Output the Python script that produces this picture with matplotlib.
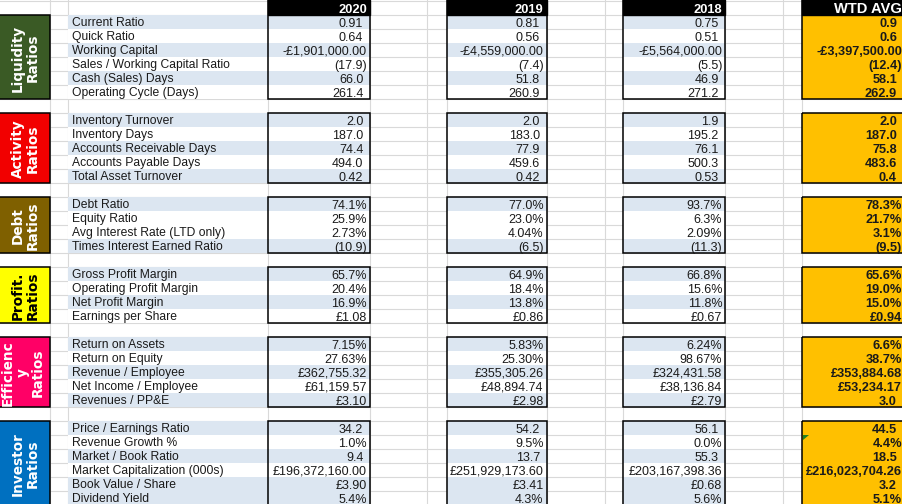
import matplotlib
matplotlib.use('Agg')
import matplotlib.pyplot as plt
from matplotlib.patches import Rectangle, Polygon

# ---------------- data ----------------
col_headers = ['2020', '2019', '2018', 'WTD AVG']

liq_title = 'Liquidity\nRatios'
liq_labels = ['Current Ratio', 'Quick Ratio', 'Working Capital', 'Sales / Working Capital Ratio',
              'Cash (Sales) Days', 'Operating Cycle (Days)']
liq_2020 = ['0.91', '0.64', '-£1,901,000.00', '(17.9)', '66.0', '261.4']
liq_2019 = ['0.81', '0.56', '-£4,559,000.00', '(7.4)', '51.8', '260.9']
liq_2018 = ['0.75', '0.51', '-£5,564,000.00', '(5.5)', '46.9', '271.2']
liq_wtd = ['0.9', '0.6', '-£3,397,500.00', '(12.4)', '58.1', '262.9']

act_title = 'Activity\nRatios'
act_labels = ['Inventory Turnover', 'Inventory Days', 'Accounts Receivable Days',
              'Accounts Payable Days', 'Total Asset Turnover']
act_2020 = ['2.0', '187.0', '74.4', '494.0', '0.42']
act_2019 = ['2.0', '183.0', '77.9', '459.6', '0.42']
act_2018 = ['1.9', '195.2', '76.1', '500.3', '0.53']
act_wtd = ['2.0', '187.0', '75.8', '483.6', '0.4']

debt_title = 'Debt\nRatios'
debt_labels = ['Debt Ratio', 'Equity Ratio', 'Avg Interest Rate (LTD only)', 'Times Interest Earned Ratio']
debt_2020 = ['74.1%', '25.9%', '2.73%', '(10.9)']
debt_2019 = ['77.0%', '23.0%', '4.04%', '(6.5)']
debt_2018 = ['93.7%', '6.3%', '2.09%', '(11.3)']
debt_wtd = ['78.3%', '21.7%', '3.1%', '(9.5)']

prof_title = 'Profit.\nRatios'
prof_labels = ['Gross Profit Margin', 'Operating Profit Margin', 'Net Profit Margin', 'Earnings per Share']
prof_2020 = ['65.7%', '20.4%', '16.9%', '£1.08']
prof_2019 = ['64.9%', '18.4%', '13.8%', '£0.86']
prof_2018 = ['66.8%', '15.6%', '11.8%', '£0.67']
prof_wtd = ['65.6%', '19.0%', '15.0%', '£0.94']

eff_title = 'Efficienc\ny\nRatios'
eff_labels = ['Return on Assets', 'Return on Equity', 'Revenue / Employee', 'Net Income / Employee',
              'Revenues / PP&E']
eff_2020 = ['7.15%', '27.63%', '£362,755.32', '£61,159.57', '£3.10']
eff_2019 = ['5.83%', '25.30%', '£355,305.26', '£48,894.74', '£2.98']
eff_2018 = ['6.24%', '98.67%', '£324,431.58', '£38,136.84', '£2.79']
eff_wtd = ['6.6%', '38.7%', '£353,884.68', '£53,234.17', '3.0']

inv_title = 'Investor\nRatios'
inv_labels = ['Price / Earnings Ratio', 'Revenue Growth %', 'Market / Book Ratio',
              'Market Capitalization (000s)', 'Book Value / Share', 'Dividend Yield']
inv_2020 = ['34.2', '1.0%', '9.4', '£196,372,160.00', '£3.90', '5.4%']
inv_2019 = ['54.2', '9.5%', '13.7', '£251,929,173.60', '£3.41', '4.3%']
inv_2018 = ['56.1', '0.0%', '55.3', '£203,167,398.36', '£0.68', '5.6%']
inv_wtd = ['44.5', '4.4%', '18.5', '£216,023,704.26', '3.2', '5.1%']

# ---------------- styles / layout ----------------
W, H = 903, 504
ROW_H = 14
BLUE = '#DCE6F1'
ORANGE = '#FFC000'
GRID = '#D9D9D9'
TXT = '#1A1A1A'

sections = [
    (liq_title, '#3A5A25', 'white', 1, liq_labels, [liq_2020, liq_2019, liq_2018, liq_wtd], [1, 0, 1, 0, 1, 0]),
    (act_title, '#F20000', 'white', 8, act_labels, [act_2020, act_2019, act_2018, act_wtd], [1, 0, 1, 0, 1]),
    (debt_title, '#7F6000', 'white', 14, debt_labels, [debt_2020, debt_2019, debt_2018, debt_wtd], [1, 0, 0, 1]),
    (prof_title, '#FFFF00', 'black', 19, prof_labels, [prof_2020, prof_2019, prof_2018, prof_wtd], [1, 0, 1, 0]),
    (eff_title, '#FF0066', 'white', 24, eff_labels, [eff_2020, eff_2019, eff_2018, eff_wtd], [1, 0, 1, 0, 1]),
    (inv_title, '#0070C0', 'white', 30, inv_labels, [inv_2020, inv_2019, inv_2018, inv_wtd], [1, 0, 1, 0, 1, 1]),
]

LABEL_BOX = (0, 50)
LABEL_COL = (68, 268)
VAL_COLS = [(268, 370), (447, 547), (623, 725), (802, 930)]
VAL_RIGHT = [366.8, 543.6, 722.3, 902.0]
V_GRID = [50, 68, 268, 370, 427, 447, 547, 605, 623, 725, 783, 802]

plt.rcParams['font.family'] = ['Liberation Sans', 'DejaVu Sans']
FS_LAB = 8.75
FS_NUM = 9.0
FS_BOLD = 9.2

fig = plt.figure(figsize=(W / 100, H / 100), dpi=100)
ax = fig.add_axes([0, 0, 1, 1])
ax.set_xlim(0, W)
ax.set_ylim(H, 0)
ax.axis('off')


def top(i):
    return 1 + ROW_H * i


for x in V_GRID:
    ax.plot([x, x], [0, H], color=GRID, lw=0.8, zorder=1)
for i in range(0, 37):
    ax.plot([0, W], [top(i), top(i)], color=GRID, lw=0.8, zorder=1)

# header row
for c, ((x0, x1), xr, hdr) in enumerate(zip(VAL_COLS, VAL_RIGHT, col_headers)):
    ax.add_patch(Rectangle((x0, 0), x1 - x0, top(1), facecolor='black', edgecolor='black', lw=1, zorder=3))
    ax.text(xr, top(0) + 11.6, hdr, color='white', fontsize=10.6 if c == 3 else 9.3,
            fontweight='bold', ha='right', va='baseline', zorder=5, clip_on=True)

for title, bcol, tcol, r0, labels, values, shade in sections:
    n = len(labels)
    y0 = top(r0)
    y1 = top(r0 + n)
    ax.add_patch(Rectangle((LABEL_BOX[0] - 2, y0), LABEL_BOX[1] - LABEL_BOX[0] + 2, y1 - y0,
                           facecolor=bcol, edgecolor='black', lw=1.1, zorder=3))
    nlines = title.count('\n') + 1
    cx = 25.5 if nlines == 2 else 23
    ax.text(cx, (y0 + y1) / 2 + 1, title, rotation=90, color=tcol, fontsize=9.8,
            family='DejaVu Sans', fontweight='heavy', ha='center', va='center',
            multialignment='center', linespacing=1.1, zorder=5, clip_on=True)
    for k in range(n):
        ry = top(r0 + k)
        fc = BLUE if shade[k] else 'white'
        ax.add_patch(Rectangle((LABEL_COL[0], ry), VAL_COLS[0][1] - LABEL_COL[0], ROW_H,
                               facecolor=fc, edgecolor='none', zorder=2))
        for (x0, x1) in VAL_COLS[1:3]:
            ax.add_patch(Rectangle((x0, ry), x1 - x0, ROW_H, facecolor=fc, edgecolor='none', zorder=2))
        ax.text(LABEL_COL[0] + 4, ry + 11.4, labels[k], fontsize=FS_LAB, color=TXT,
                ha='left', va='baseline', zorder=5)
        for c, (vals, xr) in enumerate(zip(values, VAL_RIGHT)):
            v = vals[k]
            bold = c == 3
            plain = not any(ch in v for ch in '%£()')
            pad = (5 if bold else 3.5) if plain else 0
            ax.text(xr - pad, ry + 11.6, v, fontsize=FS_BOLD if bold else FS_NUM, color=TXT,
                    fontweight='bold' if bold else 'normal',
                    ha='right', va='baseline', zorder=5, clip_on=True)
    ax.add_patch(Rectangle((VAL_COLS[3][0], y0), VAL_COLS[3][1] - VAL_COLS[3][0], y1 - y0,
                           facecolor=ORANGE, edgecolor='none', zorder=2))
    btop = 0 if r0 == 1 else y0
    for (x0, x1) in VAL_COLS:
        ax.add_patch(Rectangle((x0, btop), x1 - x0, y1 - btop, facecolor='none',
                               edgecolor='black', lw=1.1, zorder=4))

ax.add_patch(Polygon([[803, top(31)], [809, top(31)], [803, top(31) + 5]], closed=True,
                     facecolor='#208020', edgecolor='none', zorder=6))

fig.savefig('out.png', dpi=100)
